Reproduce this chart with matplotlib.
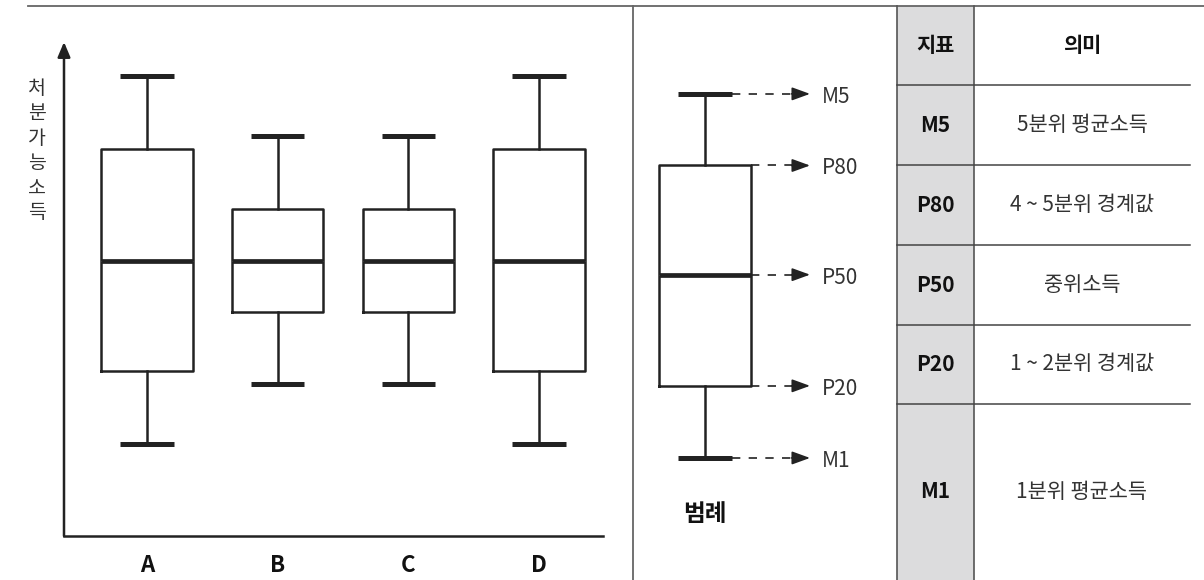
import numpy as np
import matplotlib.pyplot as plt
from matplotlib.patches import Rectangle

plt.rcParams['font.family'] = ['Noto Sans CJK KR', 'DejaVu Sans']

# box plot values (disposable income, arbitrary scale 0-100)
groups = ['A', 'B', 'C', 'D']
m1 = [18.6, 30.8, 30.8, 18.6]
p20 = [33.4, 45.3, 45.3, 33.4]
p50 = [55.7, 55.7, 55.7, 55.7]
p80 = [78.3, 66.2, 66.2, 78.3]
m5 = [93.1, 81.0, 81.0, 93.1]

# legend sample box
legend_keys = ['M5', 'P80', 'P50', 'P20', 'M1']
legend_vals = [89.5, 75.0, 52.9, 30.4, 15.8]

# side table
table_header = ['지표', '의미']
table_meaning = ['5분위 평균소득', '4 ~ 5분위 경계값', '중위소득',
                 '1 ~ 2분위 경계값', '1분위 평균소득']

W, H = 1204, 580
dark = '#222222'
txt = '#333333'

fig = plt.figure(figsize=(W / 100, H / 100), dpi=100)

# ---- frame / table layer in pixel coordinates ----
bg = fig.add_axes([0, 0, 1, 1])
bg.set_xlim(0, W)
bg.set_ylim(H, 0)
bg.axis('off')
bg.patch.set_alpha(0)

bg.plot([28, W], [6, 6], color='#666666', lw=1.3)
bg.plot([633, 633], [6, H], color='#666666', lw=1.3)

col_l, col_m, col_r = 897, 974, 1190
rows = [6, 85, 165, 245, 325, 404, H]
bg.add_patch(Rectangle((col_l, rows[0]), col_m - col_l, H - rows[0],
                       facecolor='#dcdcdd', edgecolor='none', zorder=0))
bg.plot([col_l, col_l], [rows[0], H], color='#555555', lw=1.2)
bg.plot([col_m, col_m], [rows[0], H], color='#555555', lw=1.2)
for y in rows[1:-1]:
    bg.plot([col_l, col_r], [y, y], color='#444444', lw=1.1)

row_c = [(rows[i] + rows[i + 1]) / 2 for i in range(len(rows) - 1)]
bg.text((col_l + col_m) / 2, row_c[0], table_header[0], ha='center', va='center',
        fontsize=15, fontweight='bold', color='#111111')
bg.text((col_m + col_r) / 2, row_c[0], table_header[1], ha='center', va='center',
        fontsize=15, fontweight='bold', color='#111111')
for i, (k, m) in enumerate(zip(legend_keys, table_meaning)):
    bg.text((col_l + col_m) / 2, row_c[i + 1], k, ha='center', va='center',
            fontsize=15, fontweight='bold', color='#111111')
    bg.text((col_m + col_r) / 2, row_c[i + 1], m, ha='center', va='center',
            fontsize=15, color=txt)

# y label, stacked vertically
for i, ch in enumerate('처분가능소득'):
    bg.text(37, 88 + i * 25, ch, ha='center', va='center', fontsize=14, color=txt)

bg.text(705, 514, '범례', ha='center', va='center', fontsize=17,
        fontweight='bold', color='#111111')

# ---- main box plot ----
px = 130.7  # pixels per x unit
ax = fig.add_axes([64 / W, (H - 536) / H, 539 / W, 494 / H])
ax.patch.set_alpha(0)
ax.set_ylim(0, 100)
ax.set_xlim(1 - 83 / px, 1 - 83 / px + 539 / px)

stats = [dict(label=g, whislo=a, q1=b, med=c, q3=d, whishi=e, fliers=[])
         for g, a, b, c, d, e in zip(groups, m1, p20, p50, p80, m5)]
box_kw = dict(widths=0.70, capwidths=0.41, showfliers=False,
              boxprops=dict(color=dark, linewidth=1.8),
              whiskerprops=dict(color=dark, linewidth=1.8),
              capprops=dict(color=dark, linewidth=3.6, solid_capstyle='butt'),
              medianprops=dict(color=dark, linewidth=3.4, solid_capstyle='butt'))


def draw_box(axis, st, pos):
    res = axis.bxp(st, positions=pos, **box_kw)
    # thin light seam through the median, like the printed double rule
    for med in res['medians']:
        axis.plot(med.get_xdata(), med.get_ydata(), color='#8a8a8a', lw=0.5,
                  solid_capstyle='butt')


draw_box(ax, stats, [1, 2, 3, 4])

for s in ['top', 'right', 'left']:
    ax.spines[s].set_visible(False)
ax.spines['bottom'].set_color(dark)
ax.spines['bottom'].set_linewidth(1.8)
ax.set_yticks([])
ax.set_xticks([1, 2, 3, 4], groups)
ax.tick_params(axis='x', length=0, pad=13, labelsize=16, labelcolor='#111111')
for t in ax.get_xticklabels():
    t.set_fontweight('bold')
ax.annotate('', xy=(0, 1), xytext=(0, 0), xycoords='axes fraction',
            arrowprops=dict(arrowstyle='-|>,head_length=0.9,head_width=0.38',
                            color=dark, lw=1.8, shrinkA=0, shrinkB=0))

# ---- legend box ----
lax = fig.add_axes([640 / W, (H - 536) / H, 250 / W, 494 / H])
lax.patch.set_alpha(0)
lax.set_ylim(0, 100)
x0 = 1 - (705 - 640) / px
lax.set_xlim(x0, x0 + 250 / px)
lax.axis('off')
lv = dict(zip(legend_keys, legend_vals))
lstat = [dict(whislo=lv['M1'], q1=lv['P20'], med=lv['P50'], q3=lv['P80'],
              whishi=lv['M5'], fliers=[])]
draw_box(lax, lstat, [1])

tip = 1 + (810 - 705) / px
for k, v in zip(legend_keys, legend_vals):
    xs = 1 + 0.205 if k in ('M5', 'M1') else 1 + 0.35
    lax.plot([xs, tip - 0.13], [v, v], color=dark, lw=1.2, ls=(0, (5, 5)))
    lax.annotate('', xy=(tip, v), xytext=(tip - 0.14, v), xycoords='data',
                 arrowprops=dict(arrowstyle='-|>,head_length=1.1,head_width=0.4',
                                 color=dark, lw=1.2, shrinkA=0, shrinkB=0))
    lax.text(tip + 0.09, v - 0.6, k, ha='left', va='center', fontsize=15,
             color=txt, fontweight='light')

fig.savefig('out.png', dpi=100)
